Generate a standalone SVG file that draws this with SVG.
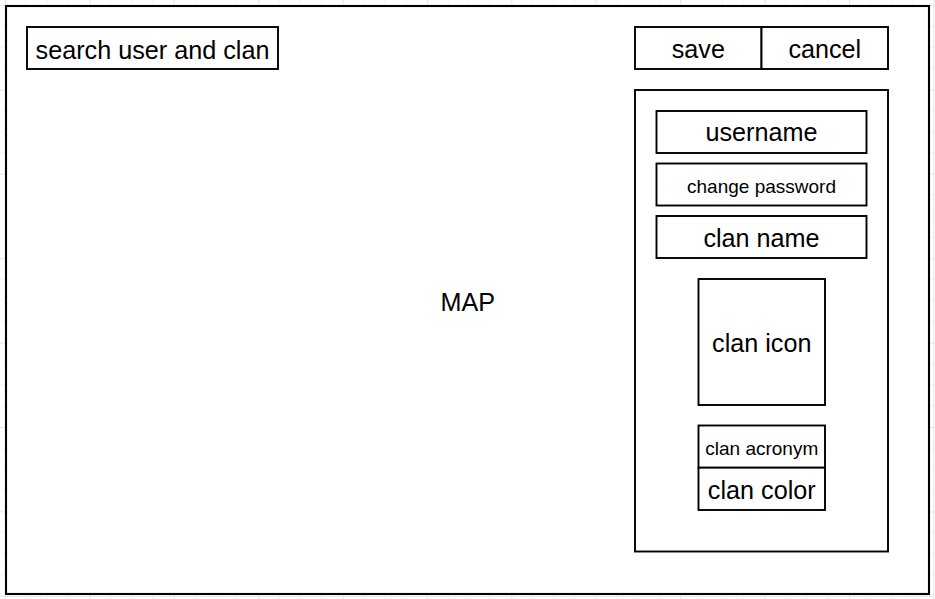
<svg xmlns="http://www.w3.org/2000/svg" width="935" height="599" viewBox="0 0 935 599">
  <style>
    .box { fill: #ffffff; stroke: #000000; stroke-width: 1.9; }
    .frame { fill: #ffffff; stroke: #000000; stroke-width: 2.1; }
    .lbl { font-family: "Liberation Sans", Arial, sans-serif; font-size: 25.2px; fill: #000000; text-anchor: middle; }
    .sm { font-size: 19px; }
  </style>
  <defs>
    <pattern id="grid" x="5" y="5" width="84.4" height="84.4" patternUnits="userSpaceOnUse">
      <path d="M21.1 0V84.4M42.2 0V84.4M63.3 0V84.4M0 21.1H84.4M0 42.2H84.4M0 63.3H84.4" stroke="#f4f4f4" stroke-width="1" fill="none"/>
      <path d="M0.5 0V84.4M0 0.5H84.4" stroke="#e6e6e6" stroke-width="1" fill="none"/>
    </pattern>
  </defs>
  <rect x="0" y="0" width="935" height="599" fill="#ffffff"/>
  <rect x="0" y="0" width="935" height="599" fill="url(#grid)"/>

  <g id="frame">
    <rect class="frame" x="6" y="6" width="923" height="588"/>
    <text class="lbl" x="467.8" y="311">MAP</text>
  </g>

  <g id="search">
    <rect class="box" x="27" y="27" width="251" height="42"/>
    <text class="lbl" x="152.5" y="58.6">search user and clan</text>
  </g>

  <g id="save">
    <rect class="box" x="635" y="27" width="126.5" height="42"/>
    <text class="lbl" x="698.3" y="57.8">save</text>
  </g>

  <g id="cancel">
    <rect class="box" x="761.5" y="27" width="126.5" height="42"/>
    <text class="lbl" x="824.8" y="57.8">cancel</text>
  </g>

  <g id="panel">
    <rect class="box" x="635" y="90" width="253" height="461.5"/>
  </g>

  <g id="username">
    <rect class="box" x="656.5" y="111" width="210" height="42"/>
    <text class="lbl" x="761.5" y="141.2">username</text>
  </g>

  <g id="change-password">
    <rect class="box" x="656.5" y="163.5" width="210" height="42"/>
    <text class="lbl sm" x="761.5" y="193">change password</text>
  </g>

  <g id="clan-name">
    <rect class="box" x="656.5" y="216" width="210" height="42"/>
    <text class="lbl" x="761.5" y="246.5">clan name</text>
  </g>

  <g id="clan-icon">
    <rect class="box" x="698.5" y="279" width="126.5" height="126"/>
    <text class="lbl" x="761.75" y="352">clan icon</text>
  </g>

  <g id="clan-acronym">
    <rect class="box" x="698.5" y="425.5" width="126.5" height="42.2"/>
    <text class="lbl sm" x="761.75" y="454.8">clan acronym</text>
  </g>

  <g id="clan-color">
    <rect class="box" x="698.5" y="467.7" width="126.5" height="42.3"/>
    <text class="lbl" x="761.75" y="498.8">clan color</text>
  </g>
</svg>
